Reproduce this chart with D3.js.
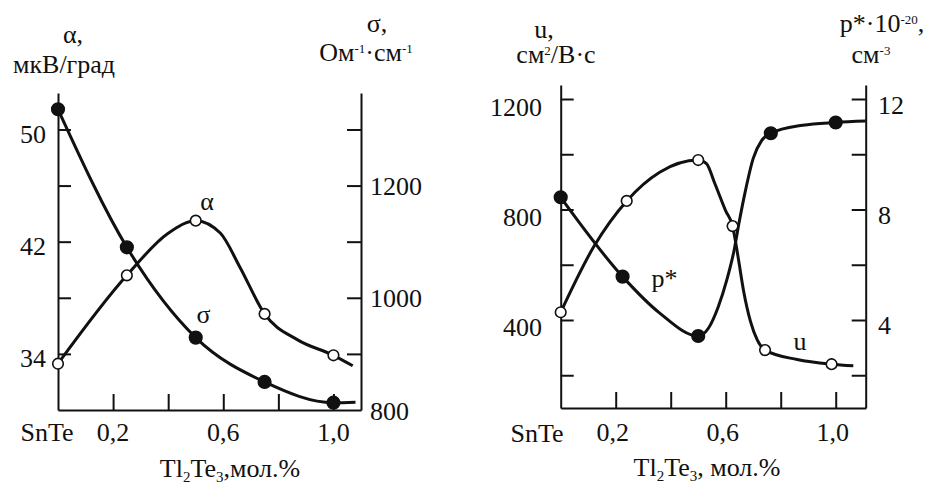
<!DOCTYPE html>
<html>
<head>
<meta charset="utf-8">
<script src="https://cdn.jsdelivr.net/npm/d3@7"></script>
<style>
  html, body { margin: 0; padding: 0; background: #fff; }
  svg { display: block; }
</style>
</head>
<body>
<div id="chart"></div>
<script>
(function() {
  // ---------- left panel: measured points ----------
  const leftX = [0, 0.25, 0.5, 0.75, 1.0];
  const alphaVals = [33.3, 39.6, 43.5, 36.85, 33.9];
  const sigmaVals = [1336, 1090, 929, 850, 813];
  // smooth curves as drawn in the figure (knots)
  const alphaCurve = [[0, 33.3], [0.25, 39.6], [0.4, 42.6], [0.5, 43.5], [0.59, 42.6],
                      [0.66, 40.2], [0.75, 36.85], [0.87, 35.0], [1.0, 33.9], [1.07, 33.15]];
  const sigmaCurve = [[0, 1336], [0.25, 1090], [0.5, 929], [0.75, 850], [1.0, 813], [1.08, 814]];

  // ---------- right panel: measured points ----------
  const uX = [0, 0.24, 0.5, 0.625, 0.743, 0.985];
  const uVals = [428, 831, 979, 740, 291, 240];
  const pX = [0, 0.225, 0.5, 0.764, 1.0];
  const pVals = [8.44, 5.57, 3.42, 10.76, 11.15];
  const uCurve = [[0, 428], [0.12, 665], [0.24, 831], [0.36, 935], [0.5, 979], [0.53, 966],
                  [0.56, 895], [0.6, 795], [0.625, 740], [0.645, 628], [0.665, 505],
                  [0.69, 395], [0.715, 327], [0.743, 291], [0.86, 257], [0.985, 240], [1.064, 234]];
  const pCurve = [[0, 8.44], [0.225, 5.57], [0.36, 4.25], [0.5, 3.42], [0.537, 3.7],
                  [0.573, 4.48], [0.604, 5.45], [0.63, 6.5], [0.65, 7.6], [0.67, 8.6],
                  [0.70, 9.85], [0.731, 10.5], [0.764, 10.76], [0.88, 11.05], [1.0, 11.15], [1.109, 11.2]];

  // ---------- tick values / labels ----------
  const xTicks = [0.2, 0.4, 0.6, 0.8, 1.0];
  const xTickLabels = [[0.2, "0,2"], [0.6, "0,6"], [1.0, "1,0"]];
  const alphaTicks = [34, 38, 42, 46, 50];
  const alphaLabels = [34, 42, 50];
  const sigmaTicks = [900, 1000, 1100, 1200, 1300];
  const sigmaLabels = [800, 1000, 1200];
  const uTicks = [200, 400, 600, 800, 1000, 1200];
  const uLabels = [400, 800, 1200];
  const pTicks = [2, 4, 6, 8, 10, 12];
  const pLabels = [4, 8, 12];

  const width = 925, height = 484;
  const FS = 26;
  const FONT = '"Liberation Serif", "Times New Roman", "DejaVu Serif", serif';

  const svg = d3.select("#chart").append("svg")
      .attr("width", width)
      .attr("height", height)
      .attr("font-family", FONT);

  function drawAxes(g, x, yL, yR, lt, rt, bottom) {
    g.append("g")
        .attr("transform", `translate(0,${bottom})`)
        .call(d3.axisBottom(x).tickValues(xTicks).tickSize(-16).tickSizeOuter(0).tickFormat(""));
    g.append("g")
        .attr("transform", `translate(${x.range()[0]},0)`)
        .call(d3.axisLeft(yL).tickValues(lt).tickSize(-13).tickSizeOuter(0).tickFormat(""));
    g.append("g")
        .attr("transform", `translate(${x.range()[1]},0)`)
        .call(d3.axisRight(yR).tickValues(rt).tickSize(-14).tickSizeOuter(0).tickFormat(""));
    g.selectAll(".domain, .tick line")
        .attr("stroke", "#111")
        .attr("stroke-width", 2);
  }

  function drawSeries(g, x, y, curve, xs, ys, filled) {
    const line = d3.line()
        .x(d => x(d[0]))
        .y(d => y(d[1]))
        .curve(d3.curveMonotoneX);
    g.append("path")
        .datum(curve)
        .attr("d", line)
        .attr("fill", "none")
        .attr("stroke", "#111")
        .attr("stroke-width", 3);
    g.selectAll(null)
        .data(xs.map((v, i) => [v, ys[i]]))
        .enter()
        .append("circle")
        .attr("cx", d => x(d[0]))
        .attr("cy", d => y(d[1]))
        .attr("r", filled ? 6.3 : 5.3)
        .attr("fill", filled ? "#111" : "#fff")
        .attr("stroke", "#111")
        .attr("stroke-width", 1.6);
  }

  function txt(g, x, y, anchor) {
    return g.append("text")
        .attr("x", x)
        .attr("y", y)
        .attr("text-anchor", anchor || "middle")
        .attr("font-family", FONT)
        .attr("fill", "#111")
        .style("font-size", FS + "px");
  }
  function sup(t, s) {
    t.append("tspan").attr("dy", -8).style("font-size", "13px").text(s);
    return t;
  }
  function normal(t, s) {
    t.append("tspan").attr("dy", 8).text(s);
    return t;
  }
  function xTitle(g, x, y, tail) {
    const t = txt(g, x, y);
    t.append("tspan").text("Tl");
    t.append("tspan").attr("dy", 5).style("font-size", "15px").text("2");
    t.append("tspan").attr("dy", -5).text("Te");
    t.append("tspan").attr("dy", 5).style("font-size", "15px").text("3");
    t.append("tspan").attr("dy", -5).text(tail);
  }

  // ================= left panel =================
  const L = svg.append("g");
  const xL = d3.scaleLinear().domain([0, 1.1]).range([58, 361]);
  const yA = d3.scaleLinear().domain([30, 52.6]).range([410, 93]);
  const yS = d3.scaleLinear().domain([800, 1365]).range([410, 93]);

  drawAxes(L, xL, yA, yS, alphaTicks, sigmaTicks, 410);
  drawSeries(L, xL, yS, sigmaCurve, leftX, sigmaVals, true);
  drawSeries(L, xL, yA, alphaCurve, leftX, alphaVals, false);

  alphaLabels.forEach(v => {
    txt(L, 46, yA(v) + 5, "end").attr("dominant-baseline", "central").text(v);
  });
  sigmaLabels.forEach(v => {
    txt(L, 370, yS(v) + 1, "start").attr("dominant-baseline", "central").text(v);
  });
  txt(L, 47, 441).text("SnTe");
  xTickLabels.forEach(d => txt(L, xL(d[0]), 441).text(d[1]));
  xTitle(L, 230, 477, ",мол.%");

  txt(L, 73, 43).text("α,");
  txt(L, 64, 73).text("мкВ/град");
  txt(L, 377, 32).text("σ,");
  let t = txt(L, 366, 61);
  t.append("tspan").text("Ом");
  sup(t, "-1");
  normal(t, "·см");
  sup(t, "-1");

  txt(L, 207, 210).text("α");
  txt(L, 203.5, 323).text("σ");

  // ================= right panel =================
  const R = svg.append("g");
  const xR = d3.scaleLinear().domain([0, 1.109]).range([560.7, 865.7]);
  const yU = d3.scaleLinear().domain([81.4, 1250.7]).range([408, 85]);
  const yP = d3.scaleLinear().domain([0.814, 12.507]).range([408, 85]);

  drawAxes(R, xR, yU, yP, uTicks, pTicks, 408);
  drawSeries(R, xR, yP, pCurve, pX, pVals, true);
  drawSeries(R, xR, yU, uCurve, uX, uVals, false);

  uLabels.forEach(v => {
    txt(R, 542, yU(v) + 8, "end").attr("dominant-baseline", "central").text(v);
  });
  pLabels.forEach(v => {
    txt(R, 878, yP(v) + 6, "start").attr("dominant-baseline", "central").text(v);
  });
  txt(R, 537, 442).text("SnTe");
  xTickLabels.forEach(d => txt(R, xR(d[0]) - 3, 441).text(d[1]));
  xTitle(R, 707, 476, ", мол.%");

  txt(R, 544, 38).text("u,");
  t = txt(R, 556, 63);
  t.append("tspan").text("см");
  sup(t, "2");
  normal(t, "/В·с");
  t = txt(R, 882, 32);
  t.append("tspan").text("p*·10");
  sup(t, "-20");
  normal(t, ",");
  t = txt(R, 871, 63);
  t.append("tspan").text("см");
  sup(t, "-3");

  txt(R, 664.5, 287).text("p*");
  txt(R, 800, 350).text("u");
})();
</script>
</body>
</html>
